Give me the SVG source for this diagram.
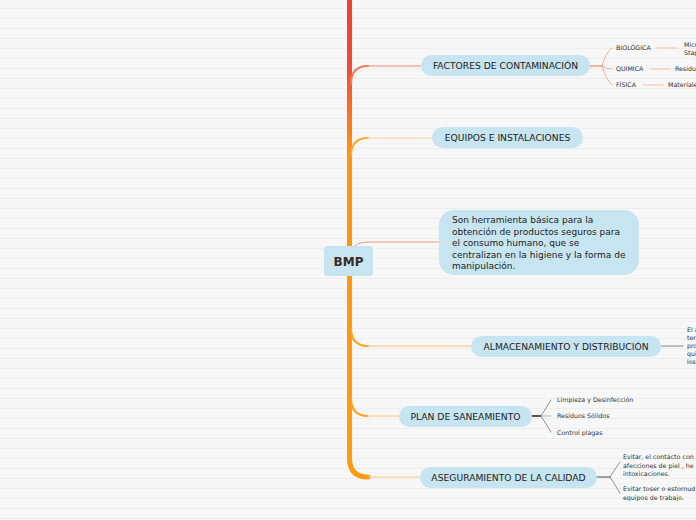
<svg xmlns="http://www.w3.org/2000/svg" width="696" height="520" viewBox="0 0 696 520">
<defs>
<pattern id="bg" width="696" height="10" patternUnits="userSpaceOnUse"><rect width="696" height="10" fill="#f7f7f7"/><rect y="8" width="696" height="1" fill="#ededed"/></pattern>
<linearGradient id="trunk" x1="0" y1="0" x2="0" y2="480" gradientUnits="userSpaceOnUse"><stop offset="0" stop-color="#ef4238"/><stop offset="0.13" stop-color="#f0483a"/><stop offset="0.32" stop-color="#ff9410"/><stop offset="1" stop-color="#ff9a10"/></linearGradient>
<style>
.pill{fill:#c6e5f0}
.t{font-family:"DejaVu Sans",Verdana,sans-serif;font-size:9.2px;fill:#222}
.s{font-family:"DejaVu Sans",Verdana,sans-serif;font-size:6.3px;fill:#333}
.c{fill:none;stroke-linecap:round}
</style>
</defs>
<rect width="696" height="520" fill="url(#bg)"/>
<g id="connectors">
<path class="c" d="M349.5,-5 L349.5,458 Q349.5,477 368,477" stroke="url(#trunk)" stroke-width="5"/>
<path class="c" d="M351,84 Q351,66 368,66" stroke="#f07a55" stroke-width="2"/>
<path class="c" d="M368,66 L421,66" stroke="#f08a6a" stroke-width="1"/>
<path class="c" d="M351,156 Q351,138 368,138" stroke="#ffa530" stroke-width="2"/>
<path class="c" d="M368,138 L432,138" stroke="#ffd8a0" stroke-width="1.2"/>
<path class="c" d="M352,250 Q354,242 370,242 L439,242" stroke="#f49a7a" stroke-width="1"/>
<path class="c" d="M351,328 Q351,346 368,346" stroke="#ffa020" stroke-width="2"/>
<path class="c" d="M368,346 L471,346" stroke="#ffc068" stroke-width="1"/>
<path class="c" d="M351,398 Q351,416 368,416" stroke="#ffa020" stroke-width="2"/>
<path class="c" d="M368,416 L399,416" stroke="#ffd8a0" stroke-width="1.5"/>
<path class="c" d="M368,477 L420,477" stroke="#ffc880" stroke-width="1"/>
<path class="c" d="M590,66 L602,66" stroke="#e8704a" stroke-width="1"/>
<path class="c" d="M602,66 Q606,52 612,48 M602,66 Q606,69 612,69 M602,66 Q606,80 612,85" stroke="#f4a080" stroke-width="0.8"/>
<path class="c" d="M657,48 L677,48 M651,69 L670,69 M643,85 L663,85" stroke="#f8c0a8" stroke-width="1.2"/>
<path class="c" d="M661,346 L683,346" stroke="#666" stroke-width="0.8"/>
<path class="c" d="M532,416 L541,416" stroke="#555" stroke-width="2"/>
<path class="c" d="M541,416 L551,400 M541,416 L551,432" stroke="#666" stroke-width="0.7"/>
<path class="c" d="M541,416 L551,416" stroke="#bbb" stroke-width="1.2"/>
<path class="c" d="M597,477 L610,477" stroke="#444" stroke-width="1"/>
<path class="c" d="M610,477 L620,462 M610,477 L620,493" stroke="#666" stroke-width="0.7"/>
</g>
<g id="bmp"><rect x="324" y="246" width="49" height="30" rx="4" class="pill"/><text x="348.5" y="266" text-anchor="middle" font-family="'DejaVu Sans',Verdana,sans-serif" font-size="12" font-weight="bold" fill="#3a2a22">BMP</text></g>
<g id="factores"><rect x="421" y="55" width="169" height="21" rx="10.5" class="pill"/><text x="505.5" y="69" text-anchor="middle" class="t">FACTORES DE CONTAMINACIÓN</text></g>
<g id="biologica"><text x="616" y="50" class="s">BIOLÓGICA</text></g>
<g id="biologica-det"><text x="684" y="47" class="s">Micr</text><text x="684" y="55" class="s">Stap</text></g>
<g id="quimica"><text x="616" y="71" class="s">QUIMICA</text></g>
<g id="quimica-det"><text x="675" y="71" class="s">Residu</text></g>
<g id="fisica"><text x="616" y="87" class="s">FÍSICA</text></g>
<g id="fisica-det"><text x="668" y="87" class="s">Materiale</text></g>
<g id="equipos"><rect x="432" y="127" width="151" height="21" rx="10.5" class="pill"/><text x="507.5" y="141" text-anchor="middle" class="t">EQUIPOS E INSTALACIONES</text></g>
<g id="definicion"><rect x="439" y="210" width="200" height="65" rx="15" class="pill"/>
<text class="t" style="font-size:9px"><tspan x="452" y="223">Son herramienta básica para la</tspan><tspan x="452" y="234.5">obtención de productos seguros para</tspan><tspan x="452" y="246">el consumo humano, que se</tspan><tspan x="452" y="257.5">centralizan en la higiene y la forma de</tspan><tspan x="452" y="269">manipulación.</tspan></text></g>
<g id="almacenamiento"><rect x="471" y="336" width="190" height="21" rx="10.5" class="pill"/><text x="566" y="350" text-anchor="middle" class="t">ALMACENAMIENTO Y DISTRIBUCIÓN</text></g>
<g id="almacenamiento-det"><text class="s"><tspan x="687" y="332">El a</tspan><tspan x="687" y="340">ter</tspan><tspan x="687" y="348">pro</tspan><tspan x="687" y="356">qui</tspan><tspan x="687" y="364">los</tspan></text></g>
<g id="plan"><rect x="399" y="406" width="133" height="21" rx="10.5" class="pill"/><text x="465.5" y="420" text-anchor="middle" class="t">PLAN DE SANEAMIENTO</text></g>
<g id="limpieza"><text x="557" y="402" class="s">Limpieza y Desinfección</text></g>
<g id="residuos"><text x="557" y="418" class="s">Residuos Sólidos</text></g>
<g id="control"><text x="557" y="435" class="s">Control plagas</text></g>
<g id="aseguramiento"><rect x="420" y="467" width="177" height="21" rx="10.5" class="pill"/><text x="508.5" y="481" text-anchor="middle" class="t">ASEGURAMIENTO DE LA CALIDAD</text></g>
<g id="evitar1"><text class="s"><tspan x="623" y="459">Evitar, el contacto con</tspan><tspan x="623" y="467.5">afecciones de piel , he</tspan><tspan x="623" y="476">intoxicaciones.</tspan></text></g>
<g id="evitar2"><text class="s"><tspan x="623" y="491">Evitar toser o estornud</tspan><tspan x="623" y="499.5">equipos de trabajo.</tspan></text></g>
</svg>
